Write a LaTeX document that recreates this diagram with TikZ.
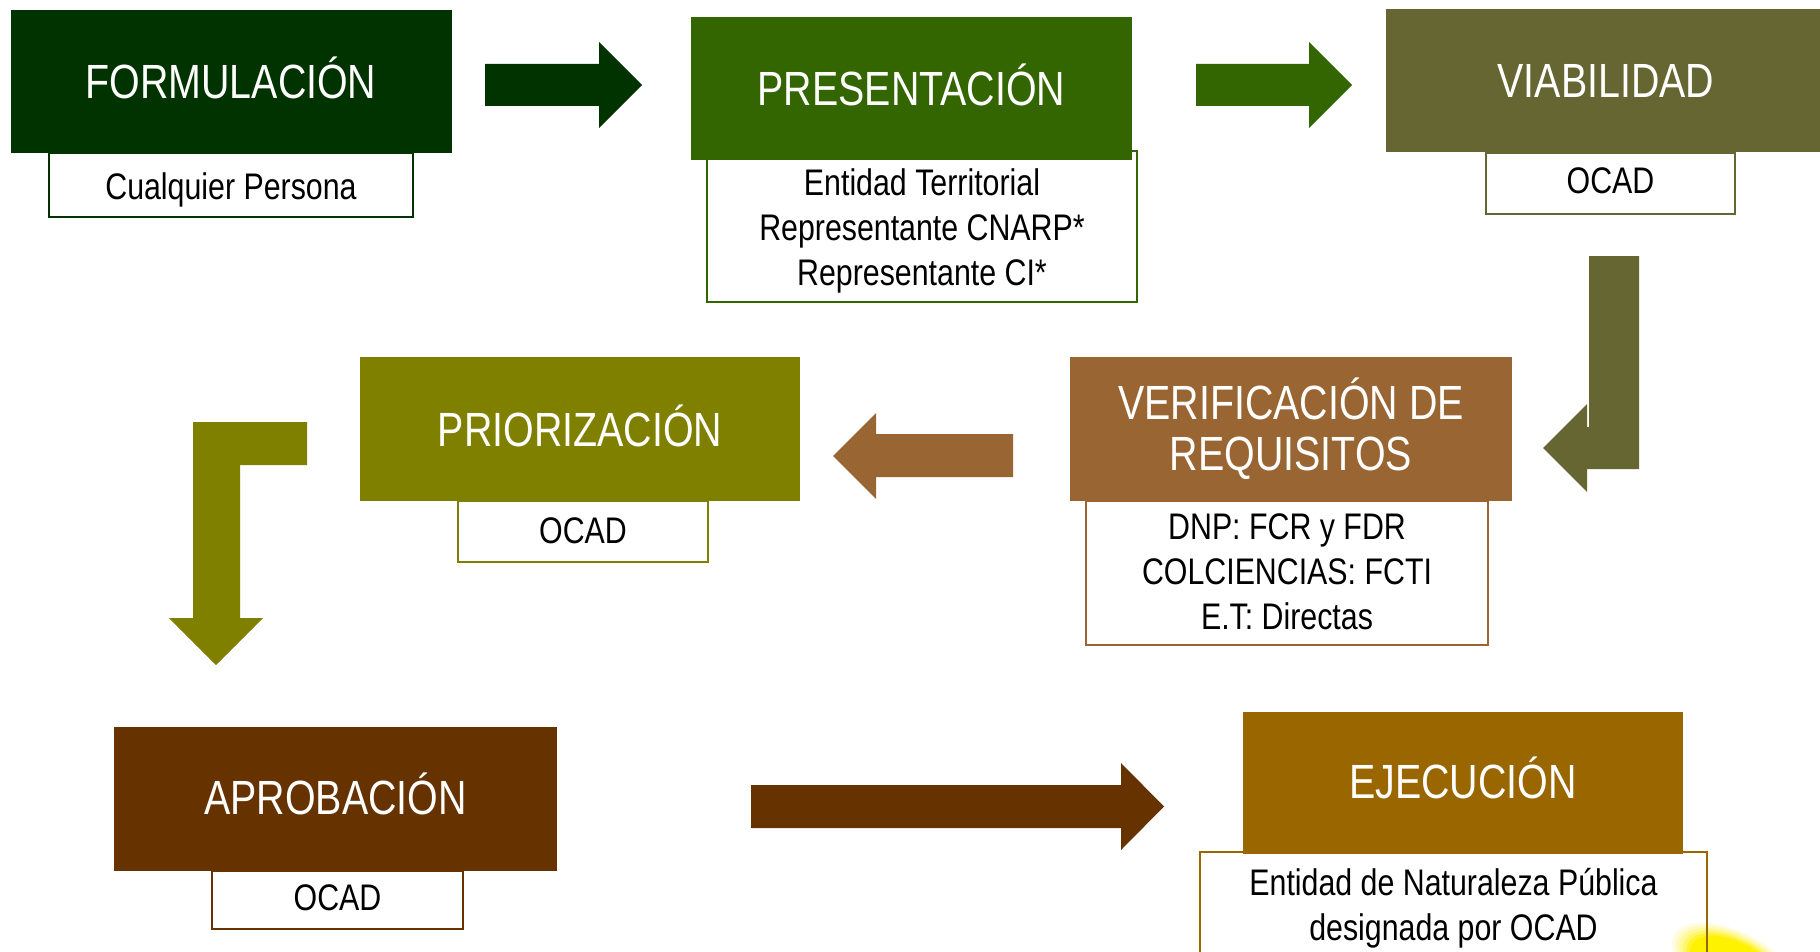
\documentclass[tikz,border=0pt]{standalone}
\usepackage{fontspec}
\setmainfont{Liberation Sans}[FakeStretch=0.82]
\definecolor{c1}{HTML}{003300}
\definecolor{c2}{HTML}{336600}
\definecolor{c3}{HTML}{666633}
\definecolor{c4}{HTML}{808000}
\definecolor{c5}{HTML}{996633}
\definecolor{c6}{HTML}{663300}
\definecolor{c7}{HTML}{996600}
\begin{document}
\begin{tikzpicture}[x=1pt,y=-1pt,
  titlebox/.style={fill=#1, draw=none, text=white, font=\fontsize{48}{51}\selectfont, align=center, inner sep=0pt, minimum width=441pt, minimum height=143pt},
  capcentre/.style={text height=34.5pt, text depth=0pt},
  subbox/.style={draw=#1, line width=1.5pt, fill=white, inner sep=0pt},
  subtext/.style={text=black, font=\fontsize{37}{45}\selectfont, align=center, inner sep=0pt},
  blockarrow/.style={fill=#1, draw=none}]
\useasboundingbox (0,0) rectangle (1820,952);
\clip (0,0) rectangle (1820,952);
\fill[white] (0,0) rectangle (1820,952);

% sub boxes
\node[subbox=c1, minimum width=364pt, minimum height=64pt] (s1) at (231,185) {};
\node[subbox=c2, minimum width=430pt, minimum height=151pt] (s2) at (922,226.5) {};
\node[subbox=c3, minimum width=249pt, minimum height=61pt] (s3) at (1610.5,183.5) {};
\node[subbox=c4, minimum width=250pt, minimum height=61pt] (s4) at (583,531.5) {};
\node[subbox=c5, minimum width=402pt, minimum height=144pt] (s5) at (1287,573) {};
\node[subbox=c6, minimum width=251pt, minimum height=58pt] (s6) at (337.5,900) {};

% partial logo blob (cut off by the frame)
\begin{scope}[rotate around={-28:(1736,968)}]
  \foreach \r/\o in {70/0.12, 66/0.15, 62/0.2, 58/0.3, 54/0.5, 50/1}{
    \fill[yellow, opacity=\o] (1736,968) ellipse [x radius=\r pt, y radius=0.5*\r pt];
  }
\end{scope}

\node[subbox=c7, fill=none, minimum width=507pt, minimum height=150pt, anchor=north] (s7) at (1453.5,851) {};

% sub texts
\node[subtext] (s1t) at (231,189.6) {Cualquier Persona};
\node[subtext] (s2t) at (922,230.5) {Entidad Territorial\\Representante CNARP*\\Representante CI*};
\node[subtext] (s3t) at (1610.5,181.2) {OCAD};
\node[subtext] (s4t) at (583,530.3) {OCAD};
\node[subtext] (s5t) at (1287,571.8) {DNP: FCR y FDR\\COLCIENCIAS: FCTI\\E.T: Directas};
\node[subtext] (s6t) at (337.5,897.7) {OCAD};
\node[subtext] (s7t) at (1453.5,908.5) {Entidad de Naturaleza Pública\\designada por OCAD};

% title boxes
\node[titlebox=c1, capcentre] (t1) at (231,81.5) {FORMULACIÓN};
\node[titlebox=c2, capcentre] (t2) at (911.5,88.5) {PRESENTACIÓN};
\node[titlebox=c3, capcentre, minimum width=440pt] (t3) at (1606,80.5) {VIABILIDAD};
\node[titlebox=c4, capcentre, minimum width=440pt, minimum height=144pt] (t4) at (580,429) {PRIORIZACIÓN};
\node[titlebox=c5, minimum width=442pt, minimum height=144pt] (t5) at (1291,429) {VERIFICACIÓN DE\\REQUISITOS};
\node[titlebox=c6, capcentre, minimum width=443pt, minimum height=144pt, text height=31pt] (t6) at (335.5,799) {APROBACIÓN};
\node[titlebox=c7, capcentre, minimum width=440pt, minimum height=142pt, text height=31pt] (t7) at (1463,783) {EJECUCIÓN};

% block arrows
\fill[blockarrow=c1] (485,64) -- (599,64) -- (599,42) -- (642,85) -- (599,128) -- (599,106) -- (485,106) -- cycle;
\fill[blockarrow=c2] (1196,64) -- (1309,64) -- (1309,42) -- (1352,85) -- (1309,128) -- (1309,106) -- (1196,106) -- cycle;
\fill[blockarrow=c3] (1589,256) -- (1639,256) -- (1639,469) -- (1587,469) -- (1587,492) -- (1543,448) -- (1587,404) -- (1587,427) -- (1589,427) -- cycle;
\fill[blockarrow=c5] (1013,434) -- (1013,477) -- (876,477) -- (876,499) -- (833,456) -- (876,413) -- (876,434) -- cycle;
\fill[blockarrow=c4] (307,422) -- (307,465) -- (240,465) -- (240,618) -- (263,618) -- (216,665) -- (169,618) -- (193,618) -- (193,422) -- cycle;
\fill[blockarrow=c6] (751,785) -- (1121,785) -- (1121,763) -- (1164,806.5) -- (1121,850) -- (1121,828) -- (751,828) -- cycle;
\end{tikzpicture}
\end{document}
